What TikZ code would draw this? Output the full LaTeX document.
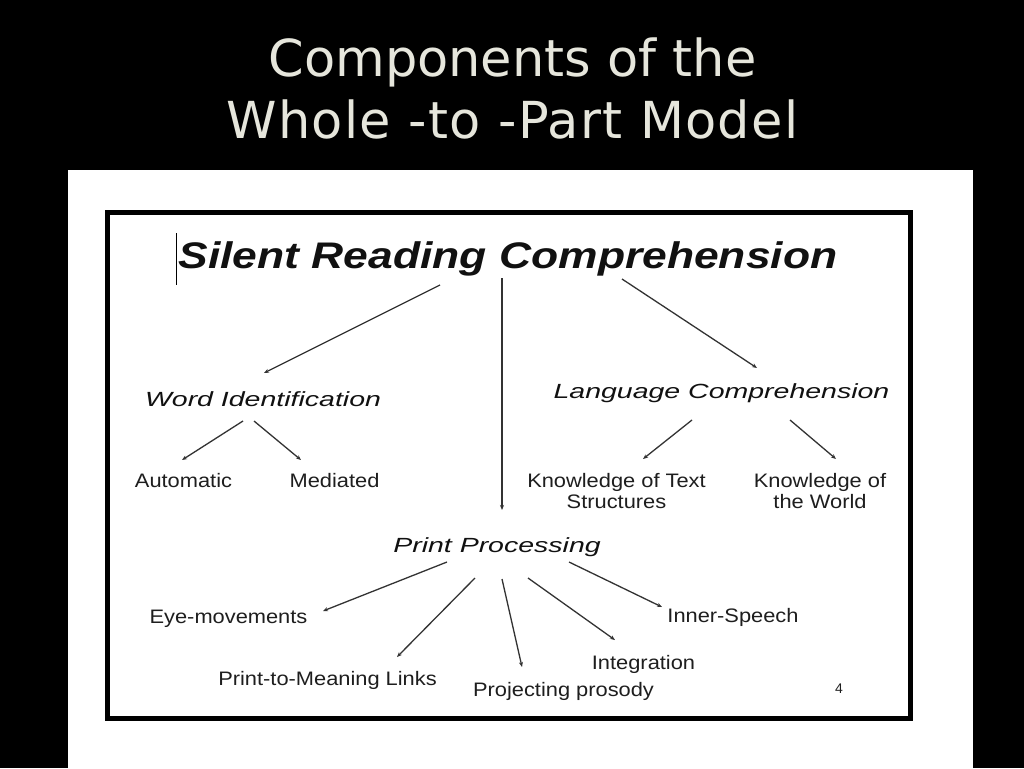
\documentclass[tikz,border=0pt]{standalone}
\usepackage{fontspec}
\setmainfont{Liberation Sans}
\newfontfamily\titlefont{DejaVu Sans}
\newfontfamily\titlefontwide[LetterSpace=2.5]{DejaVu Sans}
\newfontfamily\srcfont[FakeStretch=1.2]{Liberation Sans}
\newfontfamily\midfont[FakeStretch=1.39]{Liberation Sans}
\newfontfamily\leaffont[FakeStretch=1.12]{Liberation Sans}
\usetikzlibrary{arrows.meta,calc}
\definecolor{titlegray}{HTML}{E6E6DC}
\definecolor{inkblack}{HTML}{111111}
\definecolor{leafink}{HTML}{1E1E1E}
\definecolor{arrowgray}{HTML}{333333}
\tikzset{
  titletext/.style={text=titlegray, font=\titlefont\fontsize{51}{62}\selectfont, align=center, inner sep=0pt, anchor=north},
  toptext/.style={text=inkblack, font=\srcfont\bfseries\itshape\fontsize{37}{40}\selectfont, inner sep=0pt, anchor=base},
  midtext/.style={text=inkblack, font=\midfont\itshape\fontsize{20.5}{22}\selectfont, inner sep=0pt, anchor=base},
  leaftext/.style={text=leafink, font=\leaffont\fontsize{19.5}{21}\selectfont, inner sep=0pt, anchor=base},
  leaftwo/.style={leaftext, align=center, anchor=north},
  arr/.style={draw=arrowgray, line width=1.3pt, -{Stealth[length=5pt,width=4pt]}}
}
\begin{document}
\begin{tikzpicture}[x=1pt,y=-1pt]
\useasboundingbox (0,0) rectangle (1024,768);
\fill[black] (0,0) rectangle (1024,768);
\fill[white] (68,170) rectangle (973,768);
\draw[line width=4.5pt, black] (107.3,212.3) rectangle (910.7,718.7);
\draw[line width=1.3pt, black] (176.5,233) -- (176.5,285);

\node[titletext] (title) at (512.5,37.2) {Components of the\\{\titlefontwide Whole -to -Part Model}};

\node[toptext] (src) at (508,268) {Silent Reading Comprehension};
\node[midtext] (wi) at (263,406.5) {Word Identification};
\node[midtext] (lc) at (721.5,398) {Language Comprehension};
\node[midtext] (pp) at (497,552) {Print Processing};

\node[leaftext] (auto) at (183.5,487) {Automatic};
\node[leaftext] (med) at (334.5,487) {Mediated};
\node[leaftwo] (kts) at (616.5,473) {Knowledge of Text\\Structures};
\node[leaftwo] (kw) at (820,473) {Knowledge of\\the World};
\node[leaftext] (eye) at (228.5,623) {Eye-movements};
\node[leaftext] (pml) at (327.5,685) {Print-to-Meaning Links};
\node[leaftext] (pros) at (563.5,696) {Projecting prosody};
\node[leaftext] (integ) at (643.5,669) {Integration};
\node[leaftext] (inner) at (733,622) {Inner-Speech};
\node[text=leafink, font=\fontsize{14}{14}\selectfont, inner sep=0pt, anchor=base] (pgnum) at (839,693) {4};

\draw[arr] ($(src.base)+(-68,17)$) -- ($(wi.base)+(1,-33.5)$);
\draw[arr] ($(src.base)+(-6,10)$) -- ($(pp.base)+(5,-42)$);
\draw[arr] ($(src.base)+(114,11)$) -- ($(lc.base)+(35.5,-30)$);

\draw[arr] ($(wi.base)+(-20,14.5)$) -- ($(auto.base)+(-1.5,-27)$);
\draw[arr] ($(wi.base)+(-9,14.5)$) -- ($(med.base)+(-33.5,-27)$);

\draw[arr] ($(lc.base)+(-29.5,22)$) -- ($(kts.north)+(26.5,-14)$);
\draw[arr] ($(lc.base)+(68.5,22)$) -- ($(kw.north)+(16,-14)$);

\draw[arr] ($(pp.base)+(-50,10)$) -- ($(eye.base)+(94.5,-12)$);
\draw[arr] ($(pp.base)+(-22,26)$) -- ($(pml.base)+(69.5,-28)$);
\draw[arr] ($(pp.base)+(5,27)$) -- ($(pros.base)+(-41.5,-29)$);
\draw[arr] ($(pp.base)+(31,26)$) -- ($(integ.base)+(-28.5,-29)$);
\draw[arr] ($(pp.base)+(72,10)$) -- ($(inner.base)+(-71,-15)$);
\end{tikzpicture}
\end{document}
